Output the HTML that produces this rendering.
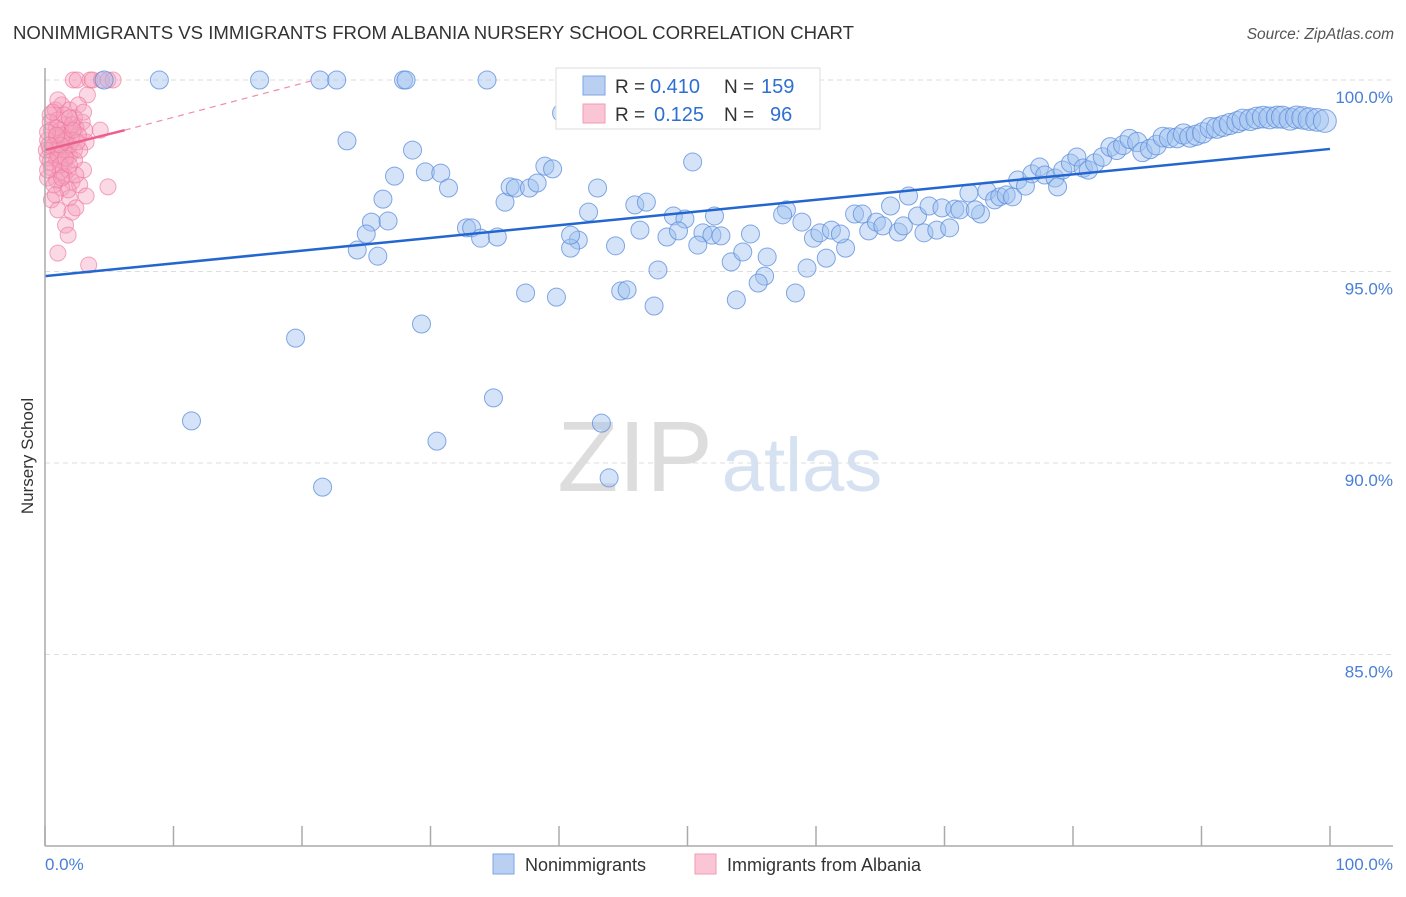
<!DOCTYPE html>
<html><head><meta charset="utf-8"><style>
body{margin:0;background:#fff;font-family:"Liberation Sans",sans-serif;}
svg text{font-family:"Liberation Sans",sans-serif;}
</style></head><body>
<svg id="chart" width="1406" height="892" xmlns="http://www.w3.org/2000/svg">
<text x="13" y="39" font-size="18.6" fill="#333">NONIMMIGRANTS VS IMMIGRANTS FROM ALBANIA NURSERY SCHOOL CORRELATION CHART</text>
<text x="1394" y="39" font-size="15.5" fill="#555" text-anchor="end" font-style="italic">Source: ZipAtlas.com</text>
<text transform="translate(33,456) rotate(-90)" font-size="17" fill="#333" text-anchor="middle">Nursery School</text>
<g><text x="635" y="491" font-size="100" fill="#ddd" text-anchor="middle" font-family="Liberation Serif">ZIP</text><text x="802" y="491" font-size="76" fill="#d6e2f2" text-anchor="middle">atlas</text></g>
<g id="grid"></g><g id="pink"></g><g id="blue"></g><g id="lines"></g>
<line x1="45" y1="68" x2="45" y2="846" stroke="#aaa" stroke-width="1.5"/>
<line x1="45" y1="846" x2="1393" y2="846" stroke="#aaa" stroke-width="1.5"/>
<g id="xticks"></g>
<text x="45" y="870" font-size="17" fill="#4a7fd6">0.0%</text>
<text x="1393" y="870" font-size="17" fill="#4a7fd6" text-anchor="end">100.0%</text>
<g>
<rect x="556" y="68" width="264" height="61" fill="#fff" stroke="#ddd"/>
<rect x="583" y="76" width="22" height="19" fill="#b9d0f3" stroke="#7ea6e6"/>
<rect x="583" y="104" width="22" height="19" fill="#fac6d5" stroke="#f19bb5"/>
<text x="615" y="93" font-size="19" fill="#333">R =</text>
<text x="650" y="93" font-size="20" fill="#2f6fd1">0.410</text>
<text x="724" y="93" font-size="19" fill="#333">N =</text>
<text x="761" y="93" font-size="20" fill="#2f6fd1">159</text>
<text x="615" y="121" font-size="19" fill="#333">R =</text>
<text x="654" y="121" font-size="20" fill="#2f6fd1">0.125</text>
<text x="724" y="121" font-size="19" fill="#333">N =</text>
<text x="770" y="121" font-size="20" fill="#2f6fd1">96</text>
</g>
<g><rect x="493" y="854" width="21" height="20" fill="#b9d0f3" stroke="#7ea6e6"/><text x="525" y="871" font-size="18" fill="#333">Nonimmigrants</text></g>
<g><rect x="695" y="854" width="21" height="20" fill="#fac6d5" stroke="#f19bb5"/><text x="727" y="871" font-size="18" fill="#333">Immigrants from Albania</text></g>
</svg>
<script>
const blueX=[8.9,16.7,21.4,22.7,27.9,28.1,34.4,4.6,40.2,23.5,28.6,27.2,26.3,29.6,30.8,31.4,25.4,26.7,25.0,24.3,25.9,32.8,33.2,33.9,35.2,35.8,36.2,36.6,37.7,38.3,38.9,39.5,43.0,42.3,41.5,40.9,44.4,45.9,46.8,48.9,49.8,48.4,49.3,50.4,51.2,51.9,52.6,52.1,50.8,53.4,54.3,54.9,56.2,56.0,55.5,53.8,57.7,57.4,58.9,58.4,59.3,59.8,60.8,60.3,61.2,62.3,61.9,63.0,63.6,64.1,64.7,65.2,65.8,66.4,66.8,67.2,67.9,68.4,68.8,69.4,69.8,70.4,70.8,71.2,71.9,72.8,72.4,73.3,73.9,74.3,74.8,75.3,75.7,76.3,76.8,77.4,77.8,78.6,78.8,79.2,79.8,80.3,80.8,81.2,81.7,82.3,82.9,83.4,83.9,84.4,85.0,85.4,86.0,86.5,87.0,87.5,88.1,88.6,89.1,89.6,90.1,90.7,91.2,91.7,92.2,92.8,93.2,93.8,94.3,94.8,95.3,95.9,96.3,96.9,97.4,97.9,98.4,99.0,99.6,37.4,39.8,44.8,45.3,47.4,29.3,19.5,11.4,34.9,30.5,21.6,43.3,43.9,47.7,46.3,40.9];
const blueY=[100,100,100,100,100,100,100,100,99.14,98.41,98.17,97.49,96.89,97.6,97.57,97.18,96.29,96.32,95.98,95.56,95.40,96.14,96.14,95.87,95.90,96.81,97.21,97.18,97.18,97.31,97.75,97.68,97.18,96.55,95.82,95.61,95.67,96.74,96.81,96.45,96.37,95.90,96.06,97.86,96.01,95.95,95.93,96.45,95.69,95.25,95.51,95.98,95.38,94.88,94.70,94.26,96.61,96.48,96.29,94.44,95.09,95.87,95.35,96.01,96.08,95.61,95.98,96.50,96.50,96.06,96.29,96.19,96.71,96.03,96.19,96.97,96.45,96.01,96.71,96.08,96.66,96.14,96.63,96.61,97.05,96.50,96.61,97.10,96.87,96.95,97.0,96.95,97.39,97.23,97.55,97.73,97.52,97.44,97.21,97.65,97.83,97.99,97.70,97.65,97.83,97.99,98.25,98.17,98.30,98.46,98.38,98.12,98.20,98.30,98.51,98.49,98.49,98.59,98.51,98.56,98.62,98.75,98.75,98.80,98.85,98.90,98.96,98.96,99.01,99.03,99.01,99.03,99.03,98.98,99.03,99.01,98.98,98.96,98.93,94.44,94.33,94.49,94.52,94.10,93.63,93.26,91.10,91.70,90.57,89.37,91.04,89.61,95.04,96.08,95.95];
const pinkX=[2.2,2.5,3.5,3.7,4.4,4.9,5.3,3.3,0.8,1.3,1.9,2.6,0.4,1.0,1.6,2.3,2.9,0.5,1.2,1.8,2.4,3.1,4.3,0.2,0.9,1.5,2.1,3.2,0.4,1.0,1.6,2.3,0.2,0.9,1.5,1.9,0.5,1.2,1.8,3.0,0.2,0.9,1.5,2.1,1.3,2.7,4.9,0.5,1.9,3.2,1.0,2.1,2.4,1.6,1.8,1.0,3.4,0.4,0.7,1.3,1.9,2.6,0.1,0.4,1.0,1.6,2.3,0.9,1.5,2.1,2.7,0.2,1.2,1.8,0.7,2.4,0.2,0.6,1.2,1.9,2.5,0.9,1.6,2.2,0.3,3.0,1.3,1.9,0.8,1.0];
const pinkY=[100,100,100,100,100,100,100,99.61,99.22,99.35,99.22,99.35,99.09,98.96,98.83,99.01,98.90,98.69,98.69,98.64,98.75,98.69,98.69,98.43,98.49,98.38,98.43,98.38,98.17,98.22,98.12,98.17,97.96,97.91,97.86,98.02,97.70,97.60,97.65,97.65,97.44,97.39,97.49,97.34,97.18,97.26,97.21,96.87,96.92,96.97,96.61,96.55,96.66,96.21,95.95,95.48,95.17,98.90,98.30,98.56,98.30,98.56,98.17,97.86,98.04,98.43,97.91,98.75,99.09,98.83,98.17,98.64,97.78,97.13,97.26,97.52,97.65,99.16,98.30,99.01,98.38,98.56,97.96,98.69,98.30,99.16,97.44,97.78,97.00,99.48];
const yTicks=[100,95,90,85];
const yTickLabels=["100.0%","95.0%","90.0%","85.0%"];
const xTicks=[0,10,20,30,40,50,60,70,80,90,100];
const blueTrend=[[0,94.88],[100,98.2]];
const pinkTrendSolid=[[0,98.17],[6.2,98.69]];
const pinkTrendDash=[[6.2,98.69],[21,100]];

const NS="http://www.w3.org/2000/svg";
const sx=v=>45+v*12.85;
const sy=v=>80+(100-v)*38.3;
function mk(tag,attrs,parent){const e=document.createElementNS(NS,tag);for(const k in attrs)e.setAttribute(k,attrs[k]);document.getElementById(parent).appendChild(e);return e;}
yTicks.forEach((t,i)=>{
  const l=mk('line',{x1:45,x2:1393,y1:sy(t),y2:sy(t),stroke:'#ddd','stroke-dasharray':'5,4'},'grid');
  
  
  const tx=mk('text',{x:1393,y:sy(t)+23,'font-size':17,fill:'#4a7fd6','text-anchor':'end'},'grid');
  tx.textContent=yTickLabels[i];
  
  
});
xTicks.forEach(t=>{
  const l=mk('line',{x1:sx(t),x2:sx(t),y1:826,y2:846,stroke:'#aaa','stroke-width':1.5},'xticks');
  
  
});
pinkX.forEach((x,i)=>{
  const c=mk('circle',{cx:sx(x),cy:sy(pinkY[i]),r:8,fill:'rgba(246,160,188,0.4)',stroke:'rgba(238,120,160,0.65)','stroke-width':1},'pink');
  
  
});
blueX.forEach((x,i)=>{
  const r=x>80?(9+(x-80)/8):9;
  const c=mk('circle',{cx:sx(x),cy:sy(blueY[i]),r:r,fill:'rgba(160,192,240,0.45)',stroke:'rgba(90,140,220,0.75)','stroke-width':1},'blue');
  
  
});
const bl=mk('line',{x1:sx(blueTrend[0][0]),y1:sy(blueTrend[0][1]),x2:sx(blueTrend[1][0]),y2:sy(blueTrend[1][1]),stroke:'#2466d0','stroke-width':2.5},'lines');


const pl=mk('line',{x1:sx(pinkTrendSolid[0][0]),y1:sy(pinkTrendSolid[0][1]),x2:sx(pinkTrendSolid[1][0]),y2:sy(pinkTrendSolid[1][1]),stroke:'#ec5f8c','stroke-width':2.5},'lines');


const pd=mk('line',{x1:sx(pinkTrendDash[0][0]),y1:sy(pinkTrendDash[0][1]),x2:sx(pinkTrendDash[1][0]),y2:sy(pinkTrendDash[1][1]),stroke:'#f08bab','stroke-width':1.2,'stroke-dasharray':'6,5'},'lines');


</script>
</body></html>
